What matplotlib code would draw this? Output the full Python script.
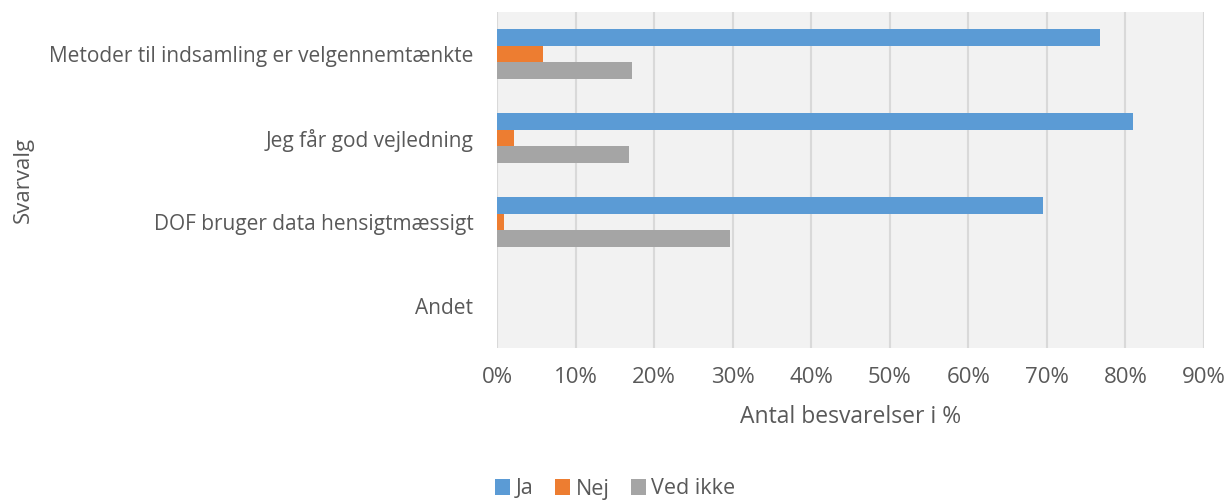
import numpy as np
import matplotlib
matplotlib.use("Agg")
import matplotlib.pyplot as plt
from matplotlib.ticker import FuncFormatter

plt.rcParams['font.family'] = ['Open Sans', 'DejaVu Sans']

categories = ["Metoder til indsamling er velgennemtænkte", "Jeg får god vejledning",
              "DOF bruger data hensigtmæssigt", "Andet"]
series = ["Ja", "Nej", "Ved ikke"]
ja = [76.8, 81.0, 69.5, 0]
nej = [5.8, 2.2, 0.9, 0]
ved_ikke = [17.2, 16.8, 29.7, 0]
colors = ["#5B9BD5", "#ED7D31", "#A5A5A5"]
txt = "#595959"

fig = plt.figure(figsize=(12.26, 5.0), dpi=100)
ax = fig.add_axes([0.4054, 0.304, 0.5766, 0.672])
ax.set_facecolor("#F2F2F2")

y = np.arange(len(categories))
h = 0.2
for i, (vals, name, c) in enumerate(zip([ja, nej, ved_ikke], series, colors)):
    ax.barh(y + (i - 1) * h, vals, height=h, color=c, label=name, zorder=3)

ax.set_ylim(len(categories) - 0.5, -0.5)
ax.set_xlim(0, 90)
ax.set_xticks(np.arange(0, 91, 10))
ax.xaxis.set_major_formatter(FuncFormatter(lambda v, p: f"{v:.0f}%"))
ax.set_yticks(y)
ax.set_yticklabels(categories)
ax.grid(axis="x", color="#D9D9D9", lw=1.5, zorder=0)
for s in ax.spines.values():
    s.set_visible(False)
ax.tick_params(length=0, labelsize=15, labelcolor=txt)
ax.tick_params(axis="x", labelsize=16, pad=14)
ax.tick_params(axis="y", pad=17)

ax.set_xlabel("Antal besvarelser i %", fontsize=16.5, color=txt, labelpad=12)
ax.set_ylabel("Svarvalg", fontsize=16, color=txt)
ax.yaxis.set_label_coords(-0.655, 0.5)

fig.legend(loc="center", bbox_to_anchor=(0.502, 0.022), ncol=3, frameon=False,
           fontsize=15.5, labelcolor=txt, handlelength=0.7, handleheight=0.7,
           handletextpad=0.25, columnspacing=1.0)

fig.savefig("out.png", dpi=100)
